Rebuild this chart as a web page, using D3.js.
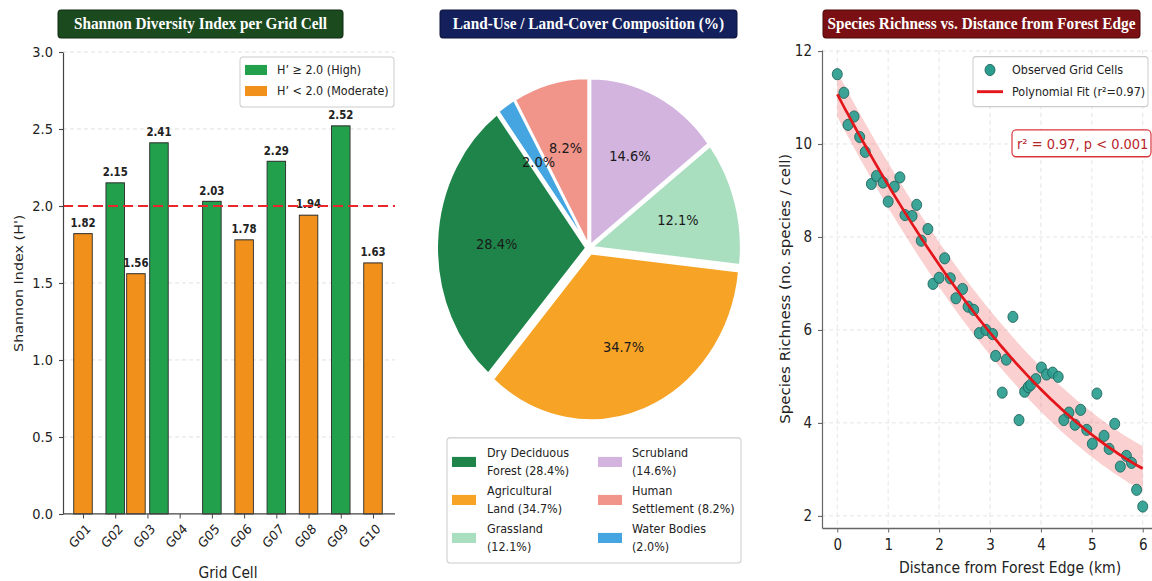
<!DOCTYPE html>
<html>
<head>
<meta charset="utf-8">
<script src="https://cdn.jsdelivr.net/npm/d3@7"></script>
<style>
  html, body { margin: 0; padding: 0; background: #fff; }
  svg { display: block; }
</style>
</head>
<body>
<svg id="fig" width="1152" height="581" viewBox="0 0 1152 519" preserveAspectRatio="none"></svg>
<script>
// ---------- data ----------
// Shannon diversity per grid cell
const gridCells = ["G01", "G02", "G03", "G04", "G05", "G06", "G07", "G08", "G09", "G10"];
const barCells = ["G01", "G02", "G03", "G03", "G05", "G06", "G07", "G08", "G09", "G10"];
const shannonValues = [1.82, 2.15, 1.56, 2.41, 2.03, 1.78, 2.29, 1.94, 2.52, 1.63];
const highThreshold = 2.0;
const shannonTicks = [0, 0.5, 1.0, 1.5, 2.0, 2.5, 3.0];

// Land-use / land-cover composition
const landCoverClasses = ["Dry Deciduous Forest", "Agricultural Land", "Grassland", "Scrubland", "Human Settlement", "Water Bodies"];
const landCoverShares = [28.4, 34.7, 12.1, 14.6, 8.2, 2.0];
const landCoverLegendLines = [["Dry Deciduous", "Forest"], ["Agricultural", "Land"], ["Grassland", ""], ["Scrubland", ""], ["Human", "Settlement"], ["Water Bodies", ""]];

// Species richness vs distance from forest edge
const distanceKm = [0.00, 0.13, 0.21, 0.33, 0.44, 0.55, 0.67, 0.77, 0.90, 1.00,
                    1.12, 1.23, 1.33, 1.47, 1.56, 1.65, 1.78, 1.88, 2.00, 2.11,
                    2.22, 2.33, 2.46, 2.57, 2.68, 2.79, 2.92, 3.05, 3.11, 3.24,
                    3.32, 3.45, 3.57, 3.68, 3.75, 3.80, 3.90, 4.01, 4.11, 4.23,
                    4.34, 4.45, 4.55, 4.67, 4.78, 4.90, 5.01, 5.10, 5.24, 5.34,
                    5.45, 5.56, 5.68, 5.78, 5.88, 6.00];
const speciesRichness = [11.50, 11.10, 10.41, 10.59, 10.15, 9.83, 9.14, 9.31, 9.17, 8.76,
                         9.08, 9.28, 8.47, 8.45, 8.69, 7.92, 8.17, 6.99, 7.12, 7.54,
                         7.11, 6.68, 6.88, 6.50, 6.43, 5.93, 6.00, 5.91, 5.44, 4.65,
                         5.36, 6.28, 4.06, 4.67, 4.77, 4.82, 4.94, 5.19, 5.04, 5.08,
                         4.99, 4.06, 4.22, 3.96, 4.28, 3.85, 3.55, 4.63, 3.72, 3.44,
                         3.98, 3.06, 3.29, 3.14, 2.56, 2.20];
const distanceTicks = [0, 1, 2, 3, 4, 5, 6];
const richnessTicks = [2, 4, 6, 8, 10, 12];
const fitBandHalfWidth = 0.48;
const fitR2Text = "0.97";
const fitPText = "p < 0.001";

// ---------- shared helpers ----------
const SANS = '"DejaVu Sans", "Liberation Sans", sans-serif';
const SERIF = '"Liberation Serif", "DejaVu Serif", serif';
const fig = d3.select("#fig");

function panelTitle(x0, x1, label, fill, edge) {
  const g = fig.append("g");
  g.append("rect").attr("x", x0).attr("y", 8.9).attr("width", x1 - x0).attr("height", 25)
    .attr("rx", 3).attr("fill", fill).attr("stroke", edge).attr("stroke-width", 1);
  g.append("text").attr("x", (x0 + x1) / 2).attr("y", 21.6)
    .attr("text-anchor", "middle").attr("dominant-baseline", "central")
    .attr("font-family", SERIF).attr("font-weight", "bold").attr("font-size", 15.3)
    .attr("fill", "#ffffff").text(label);
}

function styleAxis(g, color, size) {
  g.attr("font-family", SANS).attr("font-size", size);
  g.selectAll("path.domain").attr("stroke", color).attr("stroke-width", 1.2);
  g.selectAll(".tick line").attr("stroke", color).attr("stroke-width", 1);
  g.selectAll(".tick text").attr("fill", "#222");
}

// ---------- panel 1: Shannon diversity bars ----------
const P1 = { left: 63, right: 395, top: 46.4, bottom: 459.1 };
const colHigh = "#22a04b", colModerate = "#f2901c";

panelTitle(58, 343, "Shannon Diversity Index per Grid Cell", "#1c4a1f", "#0f2a11");

const xCell = d3.scalePoint().domain(gridCells).range([83, 373]);
const yShannon = d3.scaleLinear().domain([0, 3]).range([P1.bottom, P1.top]);

const p1 = fig.append("g");
p1.append("g").selectAll("line").data(shannonTicks.filter(t => t > 0)).join("line")
  .attr("x1", P1.left).attr("x2", P1.right)
  .attr("y1", d => yShannon(d)).attr("y2", d => yShannon(d))
  .attr("stroke", "#dcdcdc").attr("stroke-width", 0.8).attr("stroke-dasharray", "4,3");

const bars = shannonValues.map((v, i) => ({ cell: barCells[i], value: v, high: v >= highThreshold }));
const barsByCell = d3.group(bars, d => d.cell);
bars.forEach(b => { const grp = barsByCell.get(b.cell); b.slot = grp.indexOf(b); b.n = grp.length; });
const barW = xCell.step() * 0.575;
const barGap = 4.5;
const barCenter = b => xCell(b.cell) + (b.slot - (b.n - 1) / 2) * (barW + barGap);

p1.append("g").selectAll("rect").data(bars).join("rect")
  .attr("x", d => barCenter(d) - barW / 2)
  .attr("y", d => yShannon(d.value))
  .attr("width", barW)
  .attr("height", d => yShannon(0) - yShannon(d.value))
  .attr("fill", d => d.high ? colHigh : colModerate)
  .attr("stroke", "#2a2a2a").attr("stroke-width", 0.9);

p1.append("g").selectAll("text").data(bars).join("text")
  .attr("x", d => barCenter(d)).attr("y", d => yShannon(d.value) - 6)
  .attr("text-anchor", "middle").attr("font-family", SANS).attr("font-weight", "bold")
  .attr("font-size", 10.2).attr("fill", "#222")
  .text(d => d.value.toFixed(2));

// threshold line
p1.append("line").attr("x1", P1.left).attr("x2", P1.right)
  .attr("y1", yShannon(highThreshold)).attr("y2", yShannon(highThreshold))
  .attr("stroke", "#e8262b").attr("stroke-width", 1.9).attr("stroke-dasharray", "10,5");

// axes
const yAx1 = p1.append("g").attr("transform", `translate(${P1.left},0)`)
  .call(d3.axisLeft(yShannon).tickValues(shannonTicks).tickFormat(d3.format(".1f")).tickSize(4).tickSizeOuter(0).tickPadding(6));
styleAxis(yAx1, "#444", 13);

const xAx1 = p1.append("g").attr("transform", `translate(0,${P1.bottom})`)
  .call(d3.axisBottom(xCell).tickSize(4).tickSizeOuter(0));
styleAxis(xAx1, "#444", 12);
xAx1.select("path.domain").remove();
xAx1.selectAll(".tick text")
  .attr("x", 0).attr("y", 0).attr("dy", "0.35em")
  .attr("text-anchor", "end")
  .attr("transform", "translate(5,11) rotate(-45)");
p1.append("line").attr("x1", P1.left).attr("x2", P1.right)
  .attr("y1", P1.bottom).attr("y2", P1.bottom).attr("stroke", "#444").attr("stroke-width", 1.2);

p1.append("text").attr("x", 228).attr("y", 511).attr("text-anchor", "middle")
  .attr("dominant-baseline", "central").attr("font-family", SANS).attr("font-size", 13.8)
  .attr("fill", "#222").text("Grid Cell");
p1.append("text").attr("transform", "translate(18,253) rotate(-90)").attr("text-anchor", "middle")
  .attr("dominant-baseline", "central").attr("font-family", SANS).attr("font-size", 12.8)
  .attr("fill", "#222").text("Shannon Index (H')");

// legend
const lg1 = p1.append("g");
lg1.append("rect").attr("x", 240).attr("y", 50.9).attr("width", 154).attr("height", 44.7)
  .attr("rx", 3).attr("fill", "#fff").attr("stroke", "#cccccc").attr("stroke-width", 1);
const lg1Items = [
  { label: "H\u2019 \u2265 " + highThreshold.toFixed(1) + " (High)", color: colHigh },
  { label: "H\u2019 < " + highThreshold.toFixed(1) + " (Moderate)", color: colModerate }
];
lg1Items.forEach((it, i) => {
  const cy = 62.5 + i * 18.8;
  lg1.append("rect").attr("x", 245).attr("y", cy - 4.5).attr("width", 22).attr("height", 9).attr("fill", it.color);
  lg1.append("text").attr("x", 277).attr("y", cy).attr("dominant-baseline", "central")
    .attr("font-family", SANS).attr("font-size", 11.2).attr("fill", "#222").text(it.label);
});

// ---------- panel 2: land-cover pie ----------
panelTitle(440, 737, "Land-Use / Land-Cover Composition (%)", "#13205c", "#0a1236");

const pieColors = ["#1e8449", "#f6a326", "#a9dfbf", "#d2b4de", "#f1948a", "#45a5e0"];
const landCover = landCoverClasses.map((c, i) => ({ name: c, share: landCoverShares[i], color: pieColors[i], lines: landCoverLegendLines[i] }));
const pieCx = 589, pieCy = 221.6, pieR = 149;
const pieStart = 323.3 * Math.PI / 180;
const pieLayout = d3.pie().sort(null).value(d => d.share)
  .startAngle(pieStart).endAngle(pieStart - 2 * Math.PI);
const arcGen = d3.arc().innerRadius(0).outerRadius(pieR);
const explodeFrac = d => d.data.name === "Agricultural Land" ? 0.035 : 0.02;
const midAngle = d => (d.startAngle + d.endAngle) / 2;

const p2 = fig.append("g").attr("transform", `translate(${pieCx},${pieCy})`);
const slices = p2.selectAll("g.slice").data(pieLayout(landCover)).join("g")
  .attr("class", "slice")
  .attr("transform", d => {
    const e = explodeFrac(d) * pieR, m = midAngle(d);
    return `translate(${Math.sin(m) * e},${-Math.cos(m) * e})`;
  });
slices.append("path").attr("d", arcGen).attr("fill", d => d.data.color)
  .attr("stroke", "#ffffff").attr("stroke-width", 2).attr("stroke-linejoin", "round");
slices.append("text")
  .attr("x", d => Math.sin(midAngle(d)) * pieR * 0.6)
  .attr("y", d => -Math.cos(midAngle(d)) * pieR * 0.6)
  .attr("text-anchor", "middle").attr("dominant-baseline", "central")
  .attr("font-family", SANS).attr("font-size", 13).attr("fill", "#1a1a1a")
  .text(d => d.data.share.toFixed(1) + "%");

// pie legend
const lg2 = fig.append("g");
lg2.append("rect").attr("x", 447).attr("y", 391.2).attr("width", 294).attr("height", 111.7)
  .attr("rx", 3).attr("fill", "#fff").attr("stroke", "#cccccc").attr("stroke-width", 1);
landCover.forEach((d, i) => {
  const col = Math.floor(i / 3), row = i % 3;
  const sx = col === 0 ? 452 : 598, tx = col === 0 ? 487 : 632;
  const y1 = 404.6 + row * 33.95, y2 = y1 + 16.1;
  const pct = "(" + d.share.toFixed(1) + "%)";
  const line2 = d.lines[1] ? d.lines[1] + " " + pct : pct;
  lg2.append("rect").attr("x", sx).attr("y", (y1 + y2) / 2 - 4.5).attr("width", 24).attr("height", 9).attr("fill", d.color);
  [d.lines[0], line2].forEach((t, k) => {
    lg2.append("text").attr("x", tx).attr("y", k ? y2 : y1).attr("dominant-baseline", "central")
      .attr("font-family", SANS).attr("font-size", 11.2).attr("fill", "#222").text(t);
  });
});

// ---------- panel 3: species richness scatter ----------
panelTitle(823, 1140, "Species Richness vs. Distance from Forest Edge", "#7a1013", "#4a080a");

const P3 = { left: 822, right: 1158, top: 44.7, bottom: 471.6 };
const xDist = d3.scaleLinear().domain([-0.3, 6.3]).range([P3.left, P3.right]);
const yRich = d3.scaleLinear().domain([1.74, 12.02]).range([P3.bottom, P3.top]);
const p3 = fig.append("g");

// grid
p3.append("g").selectAll("line").data(distanceTicks).join("line")
  .attr("x1", d => xDist(d)).attr("x2", d => xDist(d)).attr("y1", P3.top).attr("y2", P3.bottom)
  .attr("stroke", "#e0e0e0").attr("stroke-width", 0.8).attr("stroke-dasharray", "4,3");
p3.append("g").selectAll("line").data(richnessTicks).join("line")
  .attr("x1", P3.left).attr("x2", P3.right).attr("y1", d => yRich(d)).attr("y2", d => yRich(d))
  .attr("stroke", "#e0e0e0").attr("stroke-width", 0.8).attr("stroke-dasharray", "4,3");

// quadratic least-squares fit of the observations
function quadFit(xs, ys) {
  const S = d3.range(5).map(k => d3.sum(xs, x => Math.pow(x, k)));
  const T = d3.range(3).map(k => d3.sum(xs, (x, i) => ys[i] * Math.pow(x, k)));
  const M = [[S[0], S[1], S[2], T[0]], [S[1], S[2], S[3], T[1]], [S[2], S[3], S[4], T[2]]];
  for (let c = 0; c < 3; c++) {
    for (let r = c + 1; r < 3; r++) {
      const f = M[r][c] / M[c][c];
      for (let k = c; k < 4; k++) M[r][k] -= f * M[c][k];
    }
  }
  const b = [0, 0, 0];
  for (let r = 2; r >= 0; r--) {
    let s = M[r][3];
    for (let k = r + 1; k < 3; k++) s -= M[r][k] * b[k];
    b[r] = s / M[r][r];
  }
  return x => b[0] + b[1] * x + b[2] * x * x;
}
const fit = quadFit(distanceKm, speciesRichness);
const fitX = d3.range(0, 6.0001, 0.05);

p3.append("path").datum(fitX)
  .attr("d", d3.area().x(d => xDist(d)).y0(d => yRich(fit(d) - fitBandHalfWidth)).y1(d => yRich(fit(d) + fitBandHalfWidth)))
  .attr("fill", "rgba(235, 60, 60, 0.24)");

const obs = distanceKm.map((x, i) => ({ x, y: speciesRichness[i] }));
p3.append("g").selectAll("circle").data(obs).join("circle")
  .attr("cx", d => xDist(d.x)).attr("cy", d => yRich(d.y)).attr("r", 5)
  .attr("fill", "#2a9d8f").attr("fill-opacity", 0.92)
  .attr("stroke", "#1c625a").attr("stroke-width", 0.8);

p3.append("path").datum(fitX)
  .attr("d", d3.line().x(d => xDist(d)).y(d => yRich(fit(d))))
  .attr("fill", "none").attr("stroke", "#e3161c").attr("stroke-width", 2.6);

// axes
const yAx3 = p3.append("g").attr("transform", `translate(${P3.left},0)`)
  .call(d3.axisLeft(yRich).tickValues(richnessTicks).tickFormat(d3.format("d")).tickSize(4).tickSizeOuter(0).tickPadding(6));
styleAxis(yAx3, "#666", 13.5);
const xAx3 = p3.append("g").attr("transform", `translate(0,${P3.bottom})`)
  .call(d3.axisBottom(xDist).tickValues(distanceTicks).tickFormat(d3.format("d")).tickSize(4).tickSizeOuter(0).tickPadding(6));
styleAxis(xAx3, "#666", 13.5);

p3.append("text").attr("x", 1010).attr("y", 507.4).attr("text-anchor", "middle")
  .attr("dominant-baseline", "central").attr("font-family", SANS).attr("font-size", 14)
  .attr("fill", "#222").text("Distance from Forest Edge (km)");
p3.append("text").attr("transform", "translate(785,258) rotate(-90)").attr("text-anchor", "middle")
  .attr("dominant-baseline", "central").attr("font-family", SANS).attr("font-size", 13.4)
  .attr("fill", "#222").text("Species Richness (no. species / cell)");

// legend
const lg3 = p3.append("g");
lg3.append("rect").attr("x", 973).attr("y", 50.6).attr("width", 175).attr("height", 44.7)
  .attr("rx", 3).attr("fill", "#fff").attr("stroke", "#cccccc").attr("stroke-width", 1);
lg3.append("circle").attr("cx", 990).attr("cy", 62.5).attr("r", 5)
  .attr("fill", "#2a9d8f").attr("stroke", "#1c625a").attr("stroke-width", 0.8);
lg3.append("text").attr("x", 1012).attr("y", 62.5).attr("dominant-baseline", "central")
  .attr("font-family", SANS).attr("font-size", 11.2).attr("fill", "#222").text("Observed Grid Cells");
lg3.append("line").attr("x1", 977).attr("x2", 1003).attr("y1", 81.9).attr("y2", 81.9)
  .attr("stroke", "#e3161c").attr("stroke-width", 2.6);
lg3.append("text").attr("x", 1012).attr("y", 81.9).attr("dominant-baseline", "central")
  .attr("font-family", SANS).attr("font-size", 11.2).attr("fill", "#222")
  .text("Polynomial Fit (r\u00b2=" + fitR2Text + ")");

// statistics annotation
const ann = p3.append("g");
ann.append("rect").attr("x", 1012).attr("y", 116).attr("width", 139).attr("height", 24)
  .attr("rx", 4).attr("fill", "#fff").attr("stroke", "#d9363c").attr("stroke-width", 1.2);
ann.append("text").attr("x", 1017).attr("y", 128).attr("dominant-baseline", "central")
  .attr("font-family", SANS).attr("font-size", 13).attr("fill", "#b8262c")
  .text("r\u00b2 = " + fitR2Text + ", " + fitPText);
</script>
</body>
</html>
